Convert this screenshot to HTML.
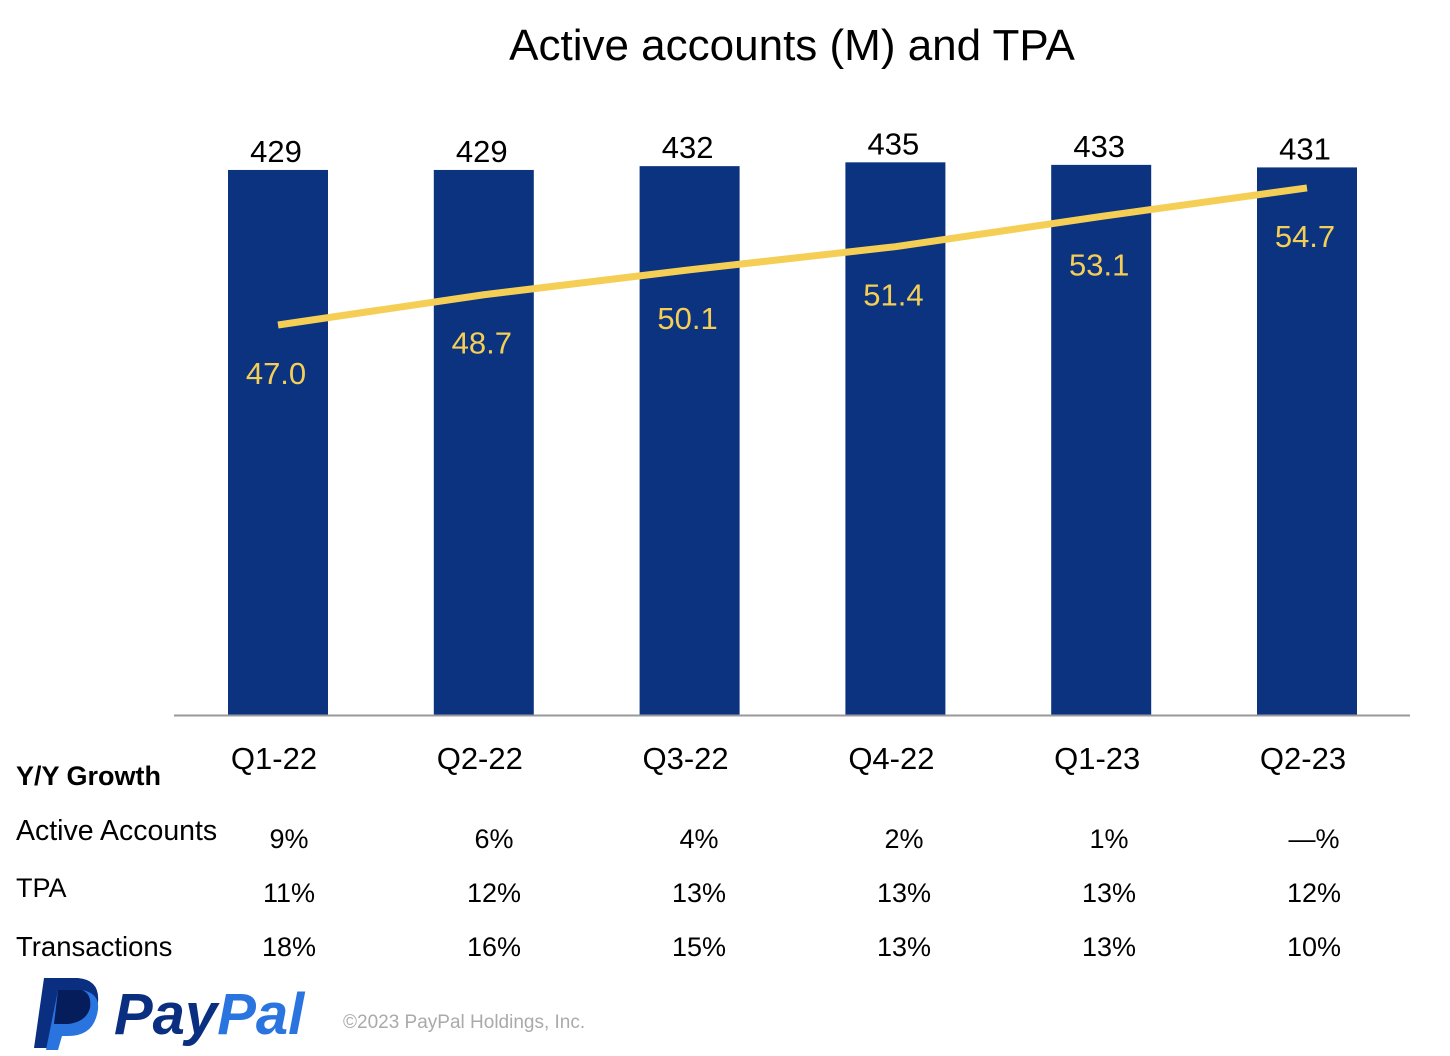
<!DOCTYPE html>
<html><head><meta charset="utf-8"><style>
html,body{margin:0;padding:0;background:#fff;}
svg{display:block;font-family:"Liberation Sans",sans-serif;}
</style></head><body>
<svg id="chart" width="1450" height="1056" viewBox="0 0 1450 1056">
<text x="792" y="60" text-anchor="middle" font-size="44" fill="#000">Active accounts (M) and TPA</text>
<g id="bars"></g>
<line x1="174" y1="715.5" x2="1410" y2="715.5" stroke="#999" stroke-width="2"/>
<g id="line"></g>
<g id="labels"></g>
<g id="table"></g>
<g>
<path d="M44 978 H78 Q100 980 98 1002 Q95 1022 72 1024 H58 L52 1048 H34 Z" fill="#0b2f80"/>
<path d="M58 990 H82 Q104 994 96 1018 Q90 1036 68 1036 H62 L58 1050 H46 Z" fill="#2a74e0"/>
<path d="M58 990 H82 Q92 994 90 1008 Q86 1022 68 1024 H54 Z" fill="#061d5c"/>
<text x="114" y="1034" font-size="58" font-weight="bold" font-style="italic" fill="#0b2f80">Pay<tspan fill="#2a74e0">Pal</tspan></text>
</g>
<text x="343" y="1028" font-size="19" fill="#aaa">©2023 PayPal Holdings, Inc.</text>
</svg>
<script>
const categories=["Q1-22","Q2-22","Q3-22","Q4-22","Q1-23","Q2-23"];
const accounts=[429,429,432,435,433,431];
const tpa=[47.0,48.7,50.1,51.4,53.1,54.7];
const growthAccounts=["9%","6%","4%","2%","1%","—%"];
const growthTPA=["11%","12%","13%","13%","13%","12%"];
const growthTransactions=["18%","16%","15%","13%","13%","10%"];
const NS="http://www.w3.org/2000/svg";
function xC(i){return 278+i*205.8;}
function yBar(v){return 715-v*1.2705;}
function yLine(v){return 325-(v-47)*17.8;}
function mk(tag,attrs,parent,txt){const e=document.createElementNS(NS,tag);for(const k in attrs)e.setAttribute(k,attrs[k]);if(txt!=null)e.textContent=txt;parent.appendChild(e);return e;}
const gb=document.getElementById('bars'),gl=document.getElementById('line'),glab=document.getElementById('labels'),gt=document.getElementById('table');
categories.forEach((c,i)=>{
 const r=mk('rect',{x:xC(i)-50,y:yBar(accounts[i]),width:100,height:715-yBar(accounts[i]),fill:'#0b3380'},gb);
 
 
 const t=mk('text',{x:xC(i)-2,y:yBar(accounts[i])-8,'text-anchor':'middle','font-size':31,fill:'#000'},glab,String(accounts[i]));
 
 
 const t2=mk('text',{x:xC(i)-2,y:yLine(tpa[i])+59,'text-anchor':'middle','font-size':31,fill:'#f5cf55'},glab,tpa[i].toFixed(1));
 
 
 const t3=mk('text',{x:xC(i)-4,y:769,'text-anchor':'middle','font-size':31,fill:'#000'},glab,c);
 
 
 [[growthAccounts,848],[growthTPA,902],[growthTransactions,956]].forEach(([arr,y])=>{
  const v=mk('text',{x:xC(i)+11-i*0.8,y:y,'text-anchor':'middle','font-size':27,fill:'#000'},gt,arr[i]);
  
  
 });
});
const pts=tpa.map((v,i)=>xC(i)+','+yLine(v)).join(' ');
const pl=mk('polyline',{points:pts,fill:'none',stroke:'#f5cf55','stroke-width':7,'stroke-linejoin':'round'},gl);


[["Y/Y Growth",785,true,27],["Active Accounts",840,false,28.5],["TPA",897,false,27],["Transactions",956,false,27.5]].forEach(([s,y,b,fs])=>{
 const e=mk('text',{x:16,y:y,'font-size':fs,'font-weight':b?'bold':'normal',fill:'#000'},gt,s);
 
 
});
</script>
</body></html>
